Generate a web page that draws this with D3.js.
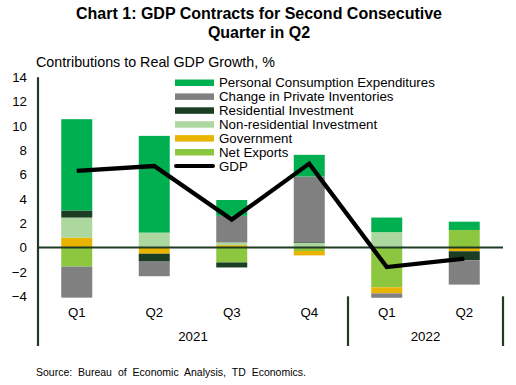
<!DOCTYPE html>
<html>
<head>
<meta charset="utf-8">
<script src="https://cdn.jsdelivr.net/npm/d3@7"></script>
<style>
  body { margin: 0; background: #fff; }
  svg { display: block; font-family: "Liberation Sans", Arial, sans-serif; }
</style>
</head>
<body>
<svg id="chart" width="516" height="385"></svg>
<script>
// ---- Data ----
const quarters = ["Q1", "Q2", "Q3", "Q4", "Q1", "Q2"];
const years = ["2021", "2022"];
const yearSpans = [4, 2];
const pce = [7.5, 7.95, 1.3, 1.78, 1.2, 0.68];
const inventories = [-2.55, -1.2, 2.19, 5.4, -0.36, -2.0];
const residential = [0.58, -0.65, -0.41, 0.06, 0.0, -0.74];
const nonResidential = [1.65, 1.23, 0.22, 0.38, 1.27, 0.0];
const government = [0.82, -0.5, 0.2, -0.36, -0.5, -0.3];
const netExports = [-1.56, 0.0, -1.22, -0.28, -3.26, 1.45];
const gdp = [6.3, 6.7, 2.3, 6.9, -1.6, -0.9];
const yTicks = [-4, -2, 0, 2, 4, 6, 8, 10, 12, 14];

// Series in stacking order (bottom-up from zero)
const series = [
  { name: "Net Exports", values: netExports, color: "#8dc63f" },
  { name: "Government", values: government, color: "#e8b400" },
  { name: "Non-residential Investment", values: nonResidential, color: "#acd89f" },
  { name: "Residential Investment", values: residential, color: "#1b3d24" },
  { name: "Change in Private Inventories", values: inventories, color: "#808080" },
  { name: "Personal Consumption Expenditures", values: pce, color: "#00b050" }
];

const svg = d3.select("#chart");
const axisColor = "#1e3b24";
const pLeft = 38, pRight = 503, pTop = 77.2, pBottom = 296.3;

const x = d3.scaleBand().domain(d3.range(quarters.length)).range([pLeft, pRight]).paddingInner(0.6).paddingOuter(0.3);
const y = d3.scaleLinear().domain([-4, 14]).range([pBottom, pTop]);

// Stacked bars (positives stack up, negatives stack down)
const posBase = quarters.map(() => 0);
const negBase = quarters.map(() => 0);
const bars = [];
series.forEach(s => {
  s.values.forEach((v, i) => {
    if (v === 0) return;
    let y0, y1;
    if (v > 0) { y0 = posBase[i]; y1 = y0 + v; posBase[i] = y1; }
    else { y0 = negBase[i]; y1 = y0 + v; negBase[i] = y1; }
    bars.push({ i, y0, y1, color: s.color });
  });
});

svg.append("g").selectAll("rect").data(bars).join("rect")
  .attr("x", d => x(d.i))
  .attr("width", x.bandwidth())
  .attr("y", d => y(Math.max(d.y0, d.y1)))
  .attr("height", d => Math.abs(y(d.y0) - y(d.y1)))
  .attr("fill", d => d.color);

// Zero line
svg.append("line")
  .attr("x1", pLeft).attr("x2", pRight)
  .attr("y1", y(0)).attr("y2", y(0))
  .attr("stroke", axisColor).attr("stroke-width", 2);

// Y axis
const yAxis = d3.axisLeft(y).tickValues(yTicks).tickSize(0).tickPadding(11).tickFormat(d3.format("d"));
const gy = svg.append("g").attr("transform", `translate(${pLeft},0)`).call(yAxis);
gy.select(".domain").remove();
gy.selectAll("text").attr("font-size", 13.3).attr("fill", "#000").style("font-family", "Liberation Sans, Arial, sans-serif");

svg.append("line")
  .attr("x1", pLeft).attr("x2", pLeft)
  .attr("y1", pTop).attr("y2", 346)
  .attr("stroke", axisColor).attr("stroke-width", 2.2);

// Category labels
svg.append("g").selectAll("text").data(quarters).join("text")
  .attr("x", (d, i) => x(i) + x.bandwidth() / 2)
  .attr("y", 317)
  .attr("text-anchor", "middle")
  .attr("font-size", 13.3)
  .text(d => d);

// Year groups
const step = x.step();
let acc = 0;
const groups = years.map((yr, k) => {
  const start = pLeft + acc * step;
  acc += yearSpans[k];
  const end = pLeft + acc * step;
  return { yr, start, end };
});
svg.append("g").selectAll("text").data(groups).join("text")
  .attr("x", d => (d.start + d.end) / 2)
  .attr("y", 341)
  .attr("text-anchor", "middle")
  .attr("font-size", 13.3)
  .text(d => d.yr);
svg.append("g").selectAll("line").data(groups).join("line")
  .attr("x1", d => d.end).attr("x2", d => d.end)
  .attr("y1", pBottom).attr("y2", 346)
  .attr("stroke", axisColor).attr("stroke-width", 2.2);

// GDP line
const line = d3.line().x((d, i) => x(i) + x.bandwidth() / 2).y(d => y(d));
svg.append("path").datum(gdp)
  .attr("d", line)
  .attr("fill", "none")
  .attr("stroke", "#000")
  .attr("stroke-width", 4.3);

// Legend
const legendItems = series.slice().reverse().map(s => ({ name: s.name, color: s.color, type: "rect" }));
legendItems.push({ name: "GDP", color: "#000", type: "line" });
const lg = svg.append("g");
legendItems.forEach((it, k) => {
  const cy = 82.7 + k * 13.9;
  if (it.type === "rect") {
    lg.append("rect").attr("x", 175).attr("y", cy - 3.2).attr("width", 39).attr("height", 6.5).attr("fill", it.color);
  } else {
    lg.append("line").attr("x1", 176).attr("x2", 213).attr("y1", cy).attr("y2", cy)
      .attr("stroke", "#000").attr("stroke-width", 4).attr("stroke-linecap", "round");
  }
  lg.append("text").attr("x", 219).attr("y", cy + 4.7).attr("font-size", 13.3).text(it.name);
});

// Titles
svg.append("text").attr("x", 259).attr("y", 19).attr("text-anchor", "middle")
  .attr("font-size", 16).attr("font-weight", "bold").text("Chart 1: GDP Contracts for Second Consecutive");
svg.append("text").attr("x", 259).attr("y", 38).attr("text-anchor", "middle")
  .attr("font-size", 16).attr("font-weight", "bold").text("Quarter in Q2");
svg.append("text").attr("x", 36).attr("y", 67).attr("font-size", 14.3)
  .text("Contributions to Real GDP Growth, %");

// Source
svg.append("text").attr("x", 36).attr("y", 375.5).attr("font-size", 10.5).attr("word-spacing", 3)
  .text("Source: Bureau of Economic Analysis, TD Economics.");
</script>
</body>
</html>
